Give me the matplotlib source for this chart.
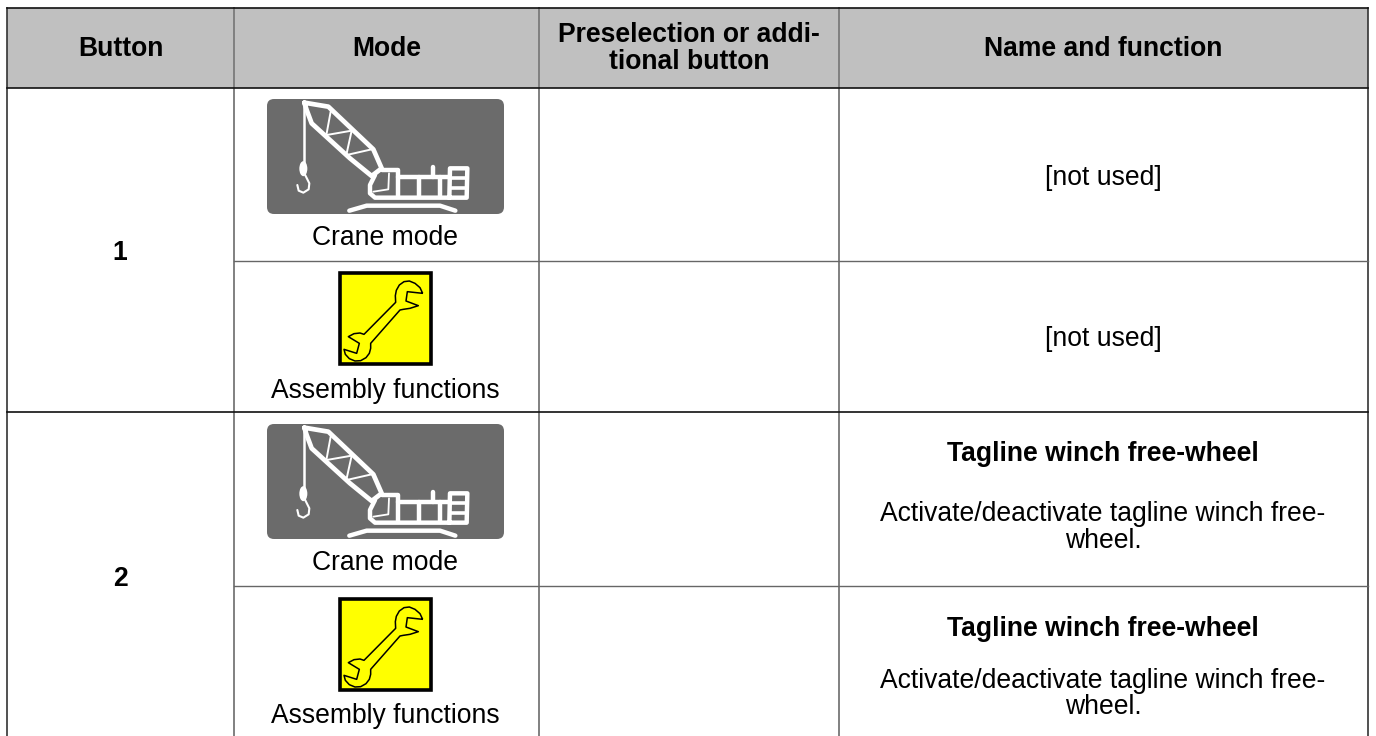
import matplotlib
matplotlib.use("Agg")
import matplotlib.pyplot as plt
from matplotlib.patches import Rectangle, FancyBboxPatch, PathPatch, Ellipse
from matplotlib.path import Path

plt.rcParams["font.family"] = ["Liberation Sans", "DejaVu Sans"]

# table geometry, in picture pixels
COL_EDGES = [7, 234, 539, 839, 1368]
ROW_EDGES = [8, 88, 261, 412, 586, 736]
HEADERS = ["Button", "Mode", "Preselection or addi-", "Name and function"]
HEADER_LINE2 = "tional button"
BUTTONS = ["1", "2"]
MODE_LABELS = ["Crane mode", "Assembly functions", "Crane mode", "Assembly functions"]
CRANE_ICONS = [(267, 99), (267, 424)]
WRENCH_ICONS = [(340, 273), (340, 599)]

FS = 19.1

fig = plt.figure(figsize=(13.76, 7.36), dpi=100)
ax = fig.add_axes([0, 0, 1, 1])
ax.set_xlim(0, 1376)
ax.set_ylim(736, 0)
ax.axis("off")


def line(xs, ys, color="white", lw=3.0, **kw):
    ax.plot(xs, ys, color=color, lw=lw, solid_capstyle="round", solid_joinstyle="round", **kw)


def draw_crane(x0, y0):
    ax.add_patch(FancyBboxPatch((x0, y0), 237, 115, boxstyle="round,pad=0,rounding_size=7",
                                fc="#6b6b6b", ec="none"))

    # icon strokes noted in zoomed-crop units (3x, crop starts 7,9 px before the icon)
    def pts(seq):
        return [x0 + p[0] / 3 - 7 for p in seq], [y0 + p[1] / 3 - 9 for p in seq]

    line(*pts([(133, 38), (205, 50), (340, 178), (365, 235), (335, 258), (270, 205),
               (155, 100), (140, 60), (133, 38)]), lw=3.4)
    line(*pts([(212, 65), (200, 130)]), lw=1.4)
    line(*pts([(200, 135), (275, 122)]), lw=1.4)
    line(*pts([(275, 122), (260, 190)]), lw=1.4)
    line(*pts([(260, 195), (335, 178)]), lw=1.4)
    # hook
    line(*pts([(133, 38), (133, 218)]), lw=1.8)
    cx, cy = pts([(130, 236)])
    ax.add_patch(Ellipse((cx[0], cy[0]), 8, 15, fc="white", ec="none"))
    line(*pts([(133, 250), (148, 280), (146, 298), (130, 308), (116, 302), (112, 285)]), lw=1.5)
    # body
    line(*pts([(345, 255), (330, 285), (330, 310), (345, 323), (620, 323), (622, 235),
               (570, 235), (568, 323)]), lw=3.2)
    line(*pts([(365, 240), (415, 240), (415, 320)]), lw=3.2)
    line(*pts([(387, 250), (385, 298), (340, 305)]), lw=1.3)
    line(*pts([(415, 262), (568, 262)]), lw=3.2)
    line(*pts([(478, 262), (478, 320)]), lw=3.2)
    line(*pts([(540, 262), (540, 320)]), lw=3.2)
    line(*pts([(520, 232), (520, 262)]), lw=3.2)
    line(*pts([(570, 265), (620, 265)]), lw=2.6)
    line(*pts([(570, 295), (620, 295)]), lw=2.6)
    # tracks
    line(*pts([(268, 362), (320, 347), (540, 347), (586, 362)]), lw=3.2)


# outline noted in zoomed-crop units, as the crane above
WRENCH = [(278, 85), (270, 68), (255, 55), (238, 48), (222, 50), (208, 60), (199, 76), (196, 92),
          (197, 112), (102, 208), (90, 204), (72, 206), (55, 215), (88, 235), (80, 265),
          (42, 253), (46, 268), (58, 281), (75, 288), (92, 287), (108, 278), (118, 265),
          (122, 250), (122, 235), (210, 135), (220, 133), (240, 130), (265, 122), (228, 108),
          (232, 80), (278, 85)]


def draw_wrench(x0, y0):
    ax.add_patch(Rectangle((x0, y0), 91, 91, fc="#ffff00", ec="black", lw=2.6))
    verts = [(x0 + p[0] / 3 - 10, y0 + p[1] / 3 - 8) for p in WRENCH]
    ax.add_patch(PathPatch(Path(verts), fc="none", ec="black", lw=1.1, joinstyle="round"))


# header band and grid
ax.add_patch(Rectangle((COL_EDGES[0], ROW_EDGES[0]), COL_EDGES[-1] - COL_EDGES[0],
                       ROW_EDGES[1] - ROW_EDGES[0], fc="#c0c0c0", ec="none"))
for x in COL_EDGES[1:-1]:
    ax.plot([x, x], [ROW_EDGES[0], 736], color="#808080", lw=1.4)
for x in (COL_EDGES[0], COL_EDGES[-1]):
    ax.plot([x, x], [ROW_EDGES[0], 736], color="#333333", lw=1.2)
for y in (ROW_EDGES[0], ROW_EDGES[1], ROW_EDGES[3]):
    ax.plot([COL_EDGES[0], COL_EDGES[-1]], [y, y], color="#111111", lw=1.2)
for y in (ROW_EDGES[2], ROW_EDGES[4]):
    ax.plot([COL_EDGES[1], COL_EDGES[-1]], [y, y], color="#666666", lw=1.0)

# header text
for i, h in enumerate(HEADERS):
    y = 35 if i == 2 else 49
    ax.text((COL_EDGES[i] + COL_EDGES[i + 1]) / 2, y, h, ha="center", va="center",
            fontsize=FS, fontweight="bold")
ax.text((COL_EDGES[2] + COL_EDGES[3]) / 2, 62, HEADER_LINE2, ha="center", va="center",
        fontsize=FS, fontweight="bold")

# button numbers
ax.text(120, 253, BUTTONS[0], ha="center", va="center", fontsize=FS, fontweight="bold")
ax.text(120, 579, BUTTONS[1], ha="center", va="center", fontsize=FS, fontweight="bold")

# mode icons and labels
for x0, y0 in CRANE_ICONS:
    draw_crane(x0, y0)
for x0, y0 in WRENCH_ICONS:
    draw_wrench(x0, y0)
for y, label in zip([238, 391, 563, 716], MODE_LABELS):
    ax.text(385, y, label, ha="center", va="center", fontsize=FS)

# function column
NAME_X = 1103
ax.text(NAME_X, 178, "[not used]", ha="center", va="center", fontsize=FS)
ax.text(NAME_X, 339, "[not used]", ha="center", va="center", fontsize=FS)
for y in (454, 629):
    ax.text(NAME_X, y, "Tagline winch free-wheel", ha="center", va="center",
            fontsize=FS, fontweight="bold")
ax.text(NAME_X, 514, "Activate/deactivate tagline winch free-", ha="center", va="center", fontsize=FS)
ax.text(NAME_X, 541, "wheel.", ha="center", va="center", fontsize=FS)
ax.text(NAME_X, 681, "Activate/deactivate tagline winch free-", ha="center", va="center", fontsize=FS)
ax.text(NAME_X, 707, "wheel.", ha="center", va="center", fontsize=FS)

fig.savefig("out.png", dpi=100, facecolor="white")
